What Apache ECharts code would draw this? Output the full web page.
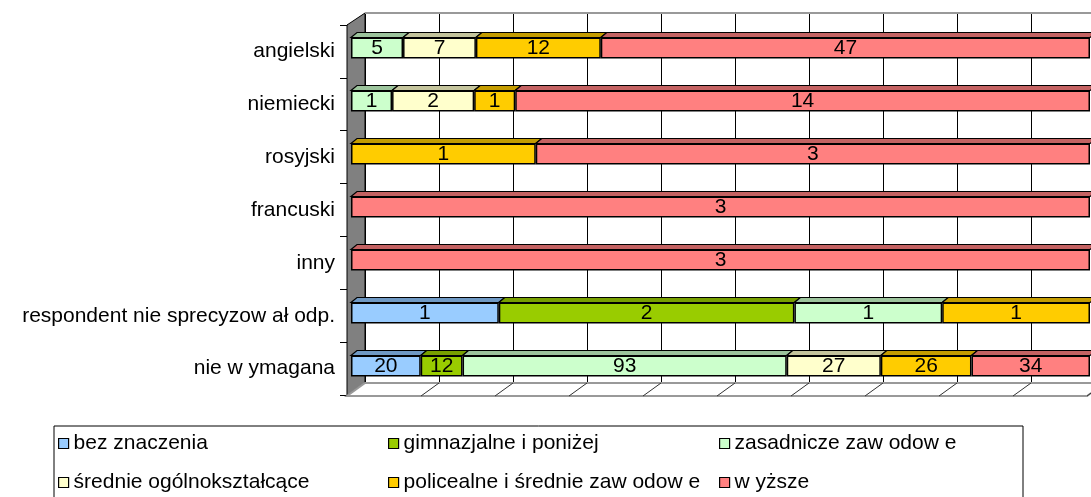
<!DOCTYPE html>
<html>
<head>
<meta charset="utf-8">
<script src="https://cdn.jsdelivr.net/npm/echarts/dist/echarts.min.js"></script>
<style>
html, body { margin: 0; padding: 0; background: #fff; }
#main { width: 1091px; height: 497px; }
</style>
</head>
<body>
<div id="main"></div>
<script>
// kategorie (od góry)
var categories = ['angielski', 'niemiecki', 'rosyjski', 'francuski', 'inny', 'respondent nie sprecyzow ał odp.', 'nie w ymagana'];
var seriesNames = ['bez znaczenia', 'gimnazjalne i poniżej', 'zasadnicze zaw odow e', 'średnie ogólnokształcące', 'policealne i średnie zaw odow e', 'w yższe'];

var bezZnaczenia = [0, 0, 0, 0, 0, 1, 20];
var gimnazjalne  = [0, 0, 0, 0, 0, 2, 12];
var zasadnicze   = [5, 1, 0, 0, 0, 1, 93];
var srednie      = [7, 2, 0, 0, 0, 0, 27];
var policealne   = [12, 1, 1, 0, 0, 1, 26];
var wyzsze       = [47, 14, 3, 3, 3, 0, 34];

var frontColors = ['#99CCFF', '#99CC00', '#CCFFCC', '#FFFFCC', '#FFCC00', '#FF8080'];
var topColors   = ['#6F99C4', '#779F00', '#9CC49C', '#C4C49C', '#C49C00', '#C46262'];

var FONT = '"Liberation Sans", Arial, sans-serif';

var chart = echarts.init(document.getElementById('main'));
var raw = [bezZnaczenia, gimnazjalne, zasadnicze, srednie, policealne, wyzsze];

// suma w wierszu -> 100%
var totals = categories.map(function(c, i) {
	var s = 0;
	raw.forEach(function(a) { s += a[i]; });
	return s;
});

var series = raw.map(function(arr, k) {
	return {
		name: seriesNames[k],
		type: 'bar',
		stack: 'all',
		xAxisIndex: 0,
		yAxisIndex: 0,
		barWidth: 21,
		z: 3,
		itemStyle: { color: frontColors[k], borderColor: '#000', borderWidth: 1.5 },
		label: {
			show: true, position: 'inside', color: '#000', fontSize: 21, fontFamily: FONT,
			formatter: function(p) { return arr[p.dataIndex]; }
		},
		data: arr.map(function(v, i) { return v ? v / totals[i] * 100 : '-'; })
	};
});

// gorne sciany slupkow (efekt 3d)
var topData = [];
categories.forEach(function(c, i) {
	var acc = 0;
	raw.forEach(function(arr, k) {
		if (!arr[i]) return;
		var w = arr[i] / totals[i] * 100;
		topData.push([acc, acc + w, i, k]);
		acc += w;
	});
});

series.push({
	type: 'custom',
	xAxisIndex: 0,
	yAxisIndex: 0,
	z: 3,
	silent: true,
	encode: { x: [0, 1], y: 2 },
	data: topData,
	renderItem: function(params, api) {
		var s = api.coord([api.value(0), api.value(2)]);
		var e = api.coord([api.value(1), api.value(2)]);
		var y = s[1] - 10.5, dx = 6, dy = 5;
		return {
			type: 'polygon',
			shape: { points: [[s[0], y], [e[0], y], [e[0] + dx, y - dy], [s[0] + dx, y - dy]] },
			style: { fill: topColors[api.value(3)], stroke: '#000', lineWidth: 1.2 }
		};
	}
});

var legendBase = {
	orient: 'vertical',
	top: 433,
	padding: 0,
	itemGap: 18,
	itemWidth: 10,
	itemHeight: 10,
	icon: 'rect',
	itemStyle: { borderColor: '#000', borderWidth: 1.2 },
	textStyle: { fontSize: 21, lineHeight: 21, color: '#000', fontFamily: FONT }
};

var option = {
	animation: false,
	backgroundColor: '#fff',
	grid: [
		{ left: 351, top: 21.5, width: 739, height: 371, outerBoundsMode: 'none' }, // slupki
		{ left: 365, top: 13, width: 740, height: 370, outerBoundsMode: 'none' },   // tylna sciana
		{ left: 347, top: 25, width: 740, height: 370, outerBoundsMode: 'none' }    // os kategorii
	],
	xAxis: [
		{ gridIndex: 0, type: 'value', min: 0, max: 100, interval: 10, show: false },
		{
			gridIndex: 1, type: 'value', min: 0, max: 100, interval: 10,
			axisLine: { show: false }, axisTick: { show: false }, axisLabel: { show: false },
			splitLine: { show: true, lineStyle: { color: '#000', width: 1 } }
		},
		{ gridIndex: 2, type: 'value', min: 0, max: 100, show: false }
	],
	yAxis: [
		{ gridIndex: 0, type: 'category', inverse: true, data: categories, show: false },
		{ gridIndex: 1, type: 'value', show: false },
		{
			gridIndex: 2, type: 'category', inverse: true, data: categories,
			axisLine: { show: true, lineStyle: { color: '#000', width: 1 } },
			axisTick: { show: true, length: 7, lineStyle: { color: '#000' } },
			axisLabel: { fontSize: 21, color: '#000', margin: 12, fontFamily: FONT },
			splitLine: { show: false }
		}
	],
	legend: [
		Object.assign({}, legendBase, { left: 58, data: [seriesNames[0], seriesNames[3]] }),
		Object.assign({}, legendBase, { left: 388, data: [seriesNames[1], seriesNames[4]] }),
		Object.assign({}, legendBase, { left: 719, data: [seriesNames[2], seriesNames[5]] })
	],
	series: series
};
chart.setOption(option);

// sciana, podloga i ramka legendy
var graphics = [];
graphics.push({
	type: 'polygon', z: 1,
	shape: { points: [[347, 25], [365, 13], [365, 383], [347, 396]] },
	style: { fill: '#808080', stroke: '#000', lineWidth: 1 }
});
graphics.push({
	type: 'polyline', z: 1,
	shape: { points: [[365, 13], [1091, 13]] },
	style: { stroke: '#999', lineWidth: 2 }
});
graphics.push({
	type: 'polygon', z: 1,
	shape: { points: [[347, 396], [365, 383], [1105, 383], [1087, 396]] },
	style: { fill: '#fff', stroke: '#999', lineWidth: 2 }
});
for (var t = 10; t <= 100; t += 10) {
	var bx = chart.convertToPixel({ xAxisIndex: 1 }, t);
	graphics.push({
		type: 'line', z: 1,
		shape: { x1: bx - 18, y1: 396, x2: bx, y2: 383 },
		style: { stroke: '#333', lineWidth: 1 }
	});
}
graphics.push({
	type: 'rect', z: 1,
	shape: { x: 54, y: 426, width: 969, height: 100 },
	style: { fill: null, stroke: '#000', lineWidth: 1 }
});
chart.setOption({ graphic: graphics });
</script>
</body>
</html>
